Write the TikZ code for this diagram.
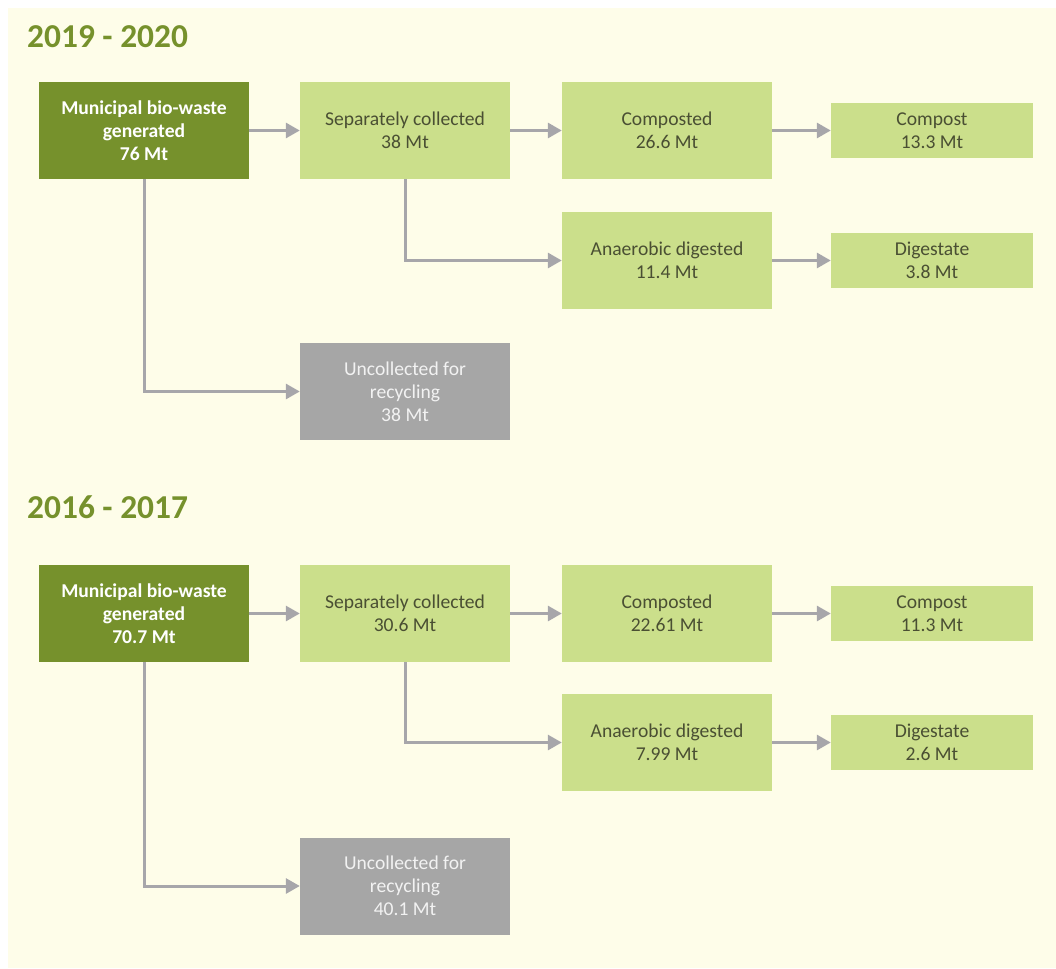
\documentclass[tikz,border=0pt]{standalone}
\usepackage{fontspec}
\setmainfont{Carlito}
\usetikzlibrary{arrows.meta}
\definecolor{bgcream}{HTML}{FEFDE9}
\definecolor{darkgreen}{HTML}{76912C}
\definecolor{lightgreen}{HTML}{CBDF8B}
\definecolor{boxgray}{HTML}{A6A6A6}
\definecolor{linegray}{HTML}{A7A6AA}
\definecolor{textdark}{HTML}{4A4F33}
\definecolor{textlight}{HTML}{F2F2F2}
\tikzset{
  box/.style={rectangle, inner sep=0pt, align=center, font=\fontsize{19.6}{23}\selectfont},
  bigbox/.style={box, minimum width=210pt, minimum height=97pt},
  smallbox/.style={box, minimum width=202pt, minimum height=55pt},
  srcbox/.style={bigbox, fill=darkgreen, text=white, font=\fontsize{19.6}{23}\selectfont\bfseries},
  lightbox/.style={fill=lightgreen, text=textdark},
  graybox/.style={bigbox, fill=boxgray, text=textlight},
  flow/.style={draw=linegray, line width=3pt, -{Triangle[length=14pt,width=15pt]}},
  yeartitle/.style={anchor=base west, inner sep=0pt, text=darkgreen, font=\fontsize{33.4}{40}\selectfont\bfseries}
}
\begin{document}
\begin{tikzpicture}[x=1pt,y=-1pt]
\useasboundingbox (0,0) rectangle (1056,968);
\fill[white] (0,0) rectangle (1056,968);
\fill[bgcream] (8,8) rectangle (1056,968);

% ---------- 2019 - 2020 ----------
\node[yeartitle] (t1) at (27,48) {2019 - 2020};
\node[srcbox] (m1) at (144,130.5) {Municipal bio-waste\\generated\\76 Mt};
\node[bigbox,lightbox] (s1) at (405,130.5) {Separately collected\\38 Mt};
\node[bigbox,lightbox] (c1) at (667,130.5) {Composted\\26.6 Mt};
\node[smallbox,lightbox] (p1) at (932,130.5) {Compost\\13.3 Mt};
\node[bigbox,lightbox] (a1) at (667,260.5) {Anaerobic digested\\11.4 Mt};
\node[smallbox,lightbox] (d1) at (932,260.5) {Digestate\\3.8 Mt};
\node[graybox] (u1) at (405,391.5) {Uncollected for\\recycling\\38 Mt};

\draw[flow] (m1.east) -- (s1.west);
\draw[flow] (s1.east) -- (c1.west);
\draw[flow] (c1.east) -- (p1.west);
\draw[flow] (s1.south) |- (a1.west);
\draw[flow] (a1.east) -- (d1.west);
\draw[flow] (m1.south) |- (u1.west);

% ---------- 2016 - 2017 ----------
\node[yeartitle] (t2) at (27,518) {2016 - 2017};
\node[srcbox] (m2) at (144,613.5) {Municipal bio-waste\\generated\\70.7 Mt};
\node[bigbox,lightbox] (s2) at (405,613.5) {Separately collected\\30.6 Mt};
\node[bigbox,lightbox] (c2) at (667,613.5) {Composted\\22.61 Mt};
\node[smallbox,lightbox] (p2) at (932,613.5) {Compost\\11.3 Mt};
\node[bigbox,lightbox] (a2) at (667,742.5) {Anaerobic digested\\7.99 Mt};
\node[smallbox,lightbox] (d2) at (932,742.5) {Digestate\\2.6 Mt};
\node[graybox] (u2) at (405,886) {Uncollected for\\recycling\\40.1 Mt};

\draw[flow] (m2.east) -- (s2.west);
\draw[flow] (s2.east) -- (c2.west);
\draw[flow] (c2.east) -- (p2.west);
\draw[flow] (s2.south) |- (a2.west);
\draw[flow] (a2.east) -- (d2.west);
\draw[flow] (m2.south) |- (u2.west);
\end{tikzpicture}
\end{document}
